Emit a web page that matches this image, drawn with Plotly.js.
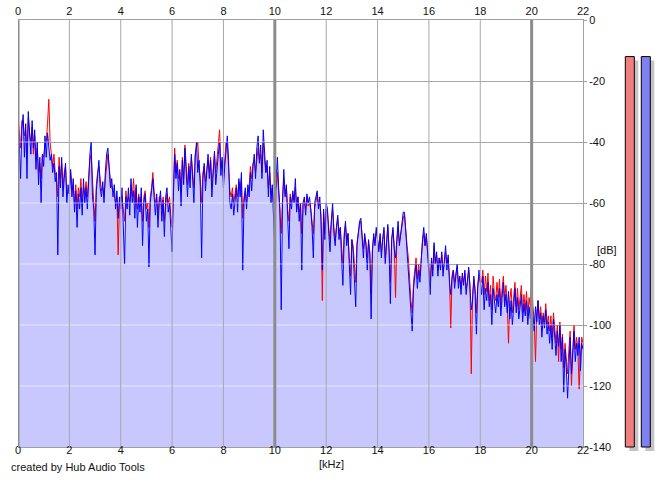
<!DOCTYPE html>
<html>
<head>
<meta charset="utf-8">
<script src="https://cdn.plot.ly/plotly-3.0.1.min.js"></script>
<style>html,body{margin:0;padding:0;background:#fff;}#chart{width:665px;height:487px;}</style>
</head>
<body>
<div id="chart"></div>
<script>
// ---- data ----
const freqStartKHz = 0;
const freqStepKHz = 0.05;

const blueDb = [
 -33,-40,-52,-36,-31,-45,-34,-52,-30,-38,-44,-33,-42,-36,-49,-40,-54,-45,-60,-44,-48,
 -38,-45,-37,-42,-46,-44,-50,-47,-53,-50,-77,-48,-55,-45,-58,-52,-47,-60,-54,-57,
 -49,-58,-52,-63,-56,-68,-57,-62,-55,-64,-52,-60,-55,-62,-50,-44,-40,-58,-62,-77,
 -56,-52,-46,-55,-58,-53,-60,-50,-44,-42,-50,-55,-52,-58,-54,-62,-56,-65,-58,-62,
 -55,-66,-80,-58,-62,-55,-64,-52,-60,-56,-65,-54,-68,-58,-63,-55,-74,-60,-57,-66,
 -62,-81,-60,-56,-52,-58,-64,-57,-68,-60,-56,-66,-59,-71,-58,-55,-63,-60,-69,-76,
 -58,-44,-52,-47,-56,-49,-61,-46,-54,-42,-50,-58,-48,-55,-44,-52,-60,-45,-40,-50,
 -46,-55,-78,-52,-47,-56,-50,-44,-52,-46,-58,-48,-43,-54,-47,-44,-40,-51,-45,-55,
 -48,-42,-38,-46,-60,-62,-57,-64,-60,-55,-63,-52,-58,-50,-82,-60,-55,-62,-54,-58,
 -50,-56,-48,-44,-52,-42,-38,-47,-41,-52,-36,-44,-50,-46,-58,-48,-60,-54,-65,-75,
 -52,-45,-55,-62,-95,-60,-49,-58,-54,-65,-75,-58,-62,-56,-60,-52,-63,-58,-66,-60,
 -82,-60,-58,-64,-57,-60,-58,-62,-68,-78,-60,-58,-56,-62,-58,-66,-82,-62,-72,-60,
 -62,-70,-76,-66,-60,-70,-74,-68,-64,-72,-68,-78,-87,-72,-66,-74,-70,-80,-90,-72,
 -76,-85,-94,-74,-70,-66,-65,-72,-78,-70,-74,-82,-72,-77,-98,-76,-70,-74,-68,-72,
 -76,-70,-78,-72,-68,-80,-74,-67,-76,-93,-72,-68,-75,-78,-72,-66,-74,-70,-66,-63,
 -63,-70,-75,-80,-90,-96,-102,-88,-84,-80,-88,-82,-86,-78,-72,-68,-74,-70,-76,-82,
 -90,-78,-84,-73,-80,-76,-84,-78,-82,-76,-84,-79,-74,-82,-77,-86,-90,-84,-82,-88,
 -84,-80,-88,-84,-90,-83,-87,-82,-90,-86,-81,-88,-95,-92,-84,-90,-103,-88,-82,-86,
 -90,-84,-95,-88,-92,-86,-94,-90,-100,-88,-92,-96,-90,-94,-88,-97,-91,-86,-94,-90,
 -96,-89,-98,-92,-100,-93,-88,-96,-91,-98,-94,-90,-99,-93,-97,-92,-100,-94,-98,-93,
 -96,-102,-94,-99,-92,-100,-96,-104,-97,-101,-95,-103,-99,-106,-100,-108,-98,-104,-110,-102,
 -107,-100,-112,-104,-122,-108,-114,-124,-110,-104,-116,-108,-102,-112,-106,-110,-104,-115,-106,-108
];

const redDb = [
 -31,-36,-42,-33,-33,-38,-36,-44,-32,-37,-40,-35,-44,-38,-46,-42,-50,-47,-52,-44,-45,
 -41,-40,-34,-26,-40,-45,-48,-44,-50,-52,-58,-45,-52,-47,-55,-50,-48,-56,-57,-55,
 -50,-54,-55,-60,-54,-62,-55,-58,-52,-60,-55,-57,-53,-58,-52,-46,-44,-55,-60,-66,
 -54,-50,-48,-52,-56,-55,-58,-52,-47,-44,-48,-53,-55,-56,-57,-60,-58,-77,-60,-58,
 -58,-62,-66,-56,-60,-58,-60,-54,-58,-52,-60,-55,-62,-57,-60,-58,-66,-58,-56,-62,
 -60,-68,-58,-55,-50,-56,-60,-58,-64,-58,-58,-62,-58,-66,-60,-57,-60,-58,-64,-68,
 -56,-42,-50,-46,-52,-50,-56,-45,-52,-41,-48,-54,-47,-52,-45,-50,-55,-44,-42,-40,
 -48,-52,-60,-50,-48,-53,-49,-46,-50,-45,-54,-47,-44,-50,-46,-42,-36,-48,-46,-52,
 -46,-40,-41,-50,-56,-58,-55,-60,-57,-54,-58,-53,-55,-52,-65,-58,-56,-60,-55,-55,
 -48,-52,-47,-46,-50,-45,-42,-46,-44,-50,-40,-46,-50,-48,-55,-50,-57,-55,-60,-56,
 -55,-50,-57,-60,-70,-58,-52,-57,-55,-62,-66,-57,-60,-57,-59,-55,-62,-58,-63,-60,
 -70,-60,-59,-62,-58,-61,-60,-62,-66,-70,-62,-60,-57,-61,-60,-64,-92,-63,-70,-62,
 -63,-68,-72,-66,-62,-68,-72,-68,-65,-70,-68,-74,-80,-70,-67,-72,-70,-78,-84,-72,
 -74,-80,-86,-73,-70,-67,-66,-70,-75,-71,-73,-78,-73,-76,-90,-75,-71,-73,-69,-72,
 -75,-71,-76,-72,-69,-78,-74,-68,-75,-86,-72,-69,-74,-91,-73,-68,-73,-70,-67,-65,
 -64,-70,-74,-78,-86,-92,-96,-86,-82,-78,-85,-80,-84,-78,-73,-70,-74,-71,-75,-80,
 -86,-79,-82,-74,-80,-77,-82,-78,-80,-77,-82,-80,-76,-80,-78,-84,-101,-85,-82,-86,
 -83,-81,-86,-84,-88,-84,-86,-83,-88,-86,-82,-87,-116,-90,-85,-88,-96,-87,-84,-86,
 -86,-82,-90,-84,-89,-83,-92,-87,-95,-84,-90,-92,-86,-91,-85,-94,-88,-84,-92,-87,
 -93,-106,-92,-88,-96,-89,-86,-94,-88,-95,-90,-87,-96,-90,-95,-89,-97,-91,-94,-85,
 -94,-98,-112,-96,-92,-98,-94,-100,-96,-99,-93,-100,-97,-102,-97,-104,-96,-101,-106,-100,
 -112,-99,-108,-103,-114,-106,-110,-116,-108,-102,-120,-106,-100,-108,-104,-108,-121,-110,-104,-106
];

const freqTicks = [0,2,4,6,8,10,12,14,16,18,20,22];
const freqTickLabels = ['0','2','4','6','8','10','12','14','16','18','20','22'];
const majorFreqTicks = [0,10,20];
const dbTicks = [0,-20,-40,-60,-80,-100,-120,-140];
const dbTickLabels = ['0','-20','-40','-60','-80','-100','-120','-140'];
const dbFloor = -140;
const meterChannels = ['L','R'];
const meterLevelsDb = [-12,-12];

// ---- build ----
const freqs = blueDb.map((_, i) => +(freqStartKHz + i * freqStepKHz).toFixed(2));

const W = 665, H = 487;
const mL = 18, mR = 5, mT = 20, mB = 30;
const plotW = W - mL - mR, plotH = H - mT - mB;
const px = v => (v - mL) / plotW;          // pixel -> paper x
const py = v => (H - mB - v) / plotH;      // pixel -> paper y
const mainRight = 583, mainBottom = 447;
const dbPerPx = 140 / (mainBottom - mT);

const font = {family: 'Liberation Sans, Arial, sans-serif', size: 11, color: '#111'};

const traces = [
  {x: [0, 22], y: [dbFloor, dbFloor], mode: 'lines', line: {width: 0}, hoverinfo: 'skip', showlegend: false},
  {x: freqs, y: blueDb, mode: 'lines', fill: 'tonexty', fillcolor: 'rgb(200,200,255)', line: {width: 0, color: 'rgba(0,0,0,0)'}, hoverinfo: 'skip', showlegend: false},
  {x: freqs, y: redDb, mode: 'lines', line: {width: 1, color: '#ff0000'}, xaxis: 'x2', yaxis: 'y', showlegend: false},
  {x: freqs, y: blueDb, mode: 'lines', line: {width: 1, color: '#0000ff'}, xaxis: 'x2', yaxis: 'y', showlegend: false},
  // meter shadows
  {type: 'bar', x: [13.8, 29.8], y: meterLevelsDb.map(l => l - dbFloor), base: dbFloor - 4 * dbPerPx, width: 9,
   marker: {color: '#c4c4c4', line: {width: 0}}, xaxis: 'x4', yaxis: 'y2', showlegend: false, hoverinfo: 'skip'},
  // meters
  {type: 'bar', x: [9.8, 25.8], y: meterLevelsDb.map(l => l - dbFloor), base: dbFloor, width: 9,
   text: meterChannels, textposition: 'none',
   marker: {color: ['rgb(240,128,128)', 'rgb(128,128,240)'], line: {width: 1, color: '#000'}},
   xaxis: 'x4', yaxis: 'y2', showlegend: false}
];

const xDomain = [0, px(mainRight)];
const yDomain = [py(mainBottom), 1];

// grid: horizontal lines grey on white but light over the filled spectrum; vertical lines over everything
const gridShapes = [];
dbTicks.filter(d => d !== 0 && d !== dbFloor).forEach(d => gridShapes.push({
  type: 'line', xref: 'x', yref: 'y', x0: 0, x1: 22, y0: d, y1: d, layer: 'above',
  line: {color: 'rgba(255,255,255,0.55)', width: 1}
}));
freqTicks.filter(f => majorFreqTicks.indexOf(f) < 0 && f !== 22).forEach(f => gridShapes.push({
  type: 'line', xref: 'x', yref: 'paper', x0: f, x1: f, y0: yDomain[0], y1: 1, layer: 'above',
  line: {color: '#a8a8a8', width: 1}
}));
majorFreqTicks.forEach(f => gridShapes.push({
  type: 'line', xref: 'x', yref: 'paper', x0: f, x1: f, y0: yDomain[0], y1: 1, layer: 'above',
  line: {color: '#8c8c8c', width: 3}
}));

const layout = {
  width: W, height: H,
  margin: {l: mL, r: mR, t: mT, b: mB, pad: 0},
  paper_bgcolor: '#fff', plot_bgcolor: '#fff',
  font: font,
  showlegend: false,
  barmode: 'overlay',
  xaxis: {domain: xDomain, range: [0, 22], anchor: 'y', tickvals: freqTicks, ticktext: freqTickLabels,
          showgrid: false, zeroline: false,
          showline: true, linecolor: '#a0a0a0', linewidth: 1, ticks: '', ticklabelstandoff: -7,
          tickfont: font, fixedrange: true},
  xaxis2: {domain: xDomain, range: [0, 22], overlaying: 'x', side: 'top', anchor: 'y', tickvals: freqTicks, ticktext: freqTickLabels,
           showgrid: false, zeroline: false, showline: true, linecolor: '#a0a0a0', ticks: '', ticklabelstandoff: 0,
           tickfont: font, fixedrange: true},
  yaxis: {domain: yDomain, range: [dbFloor, 0], side: 'right', anchor: 'x', tickvals: dbTicks, ticktext: dbTickLabels,
          showgrid: true, gridcolor: '#858585', gridwidth: 1, zeroline: false,
          showline: true, linecolor: '#a0a0a0', mirror: false, ticks: 'outside', ticklen: 3, tickcolor: '#a0a0a0',
          tickfont: font, fixedrange: true},
  xaxis4: {domain: [px(620), 1], range: [0, 40], anchor: 'y2', visible: false, fixedrange: true},
  yaxis2: {domain: [0, 1], range: [dbFloor - (H - mB - mainBottom) * dbPerPx, 0], anchor: 'x4', visible: false, fixedrange: true},
  shapes: gridShapes,
  annotations: [
    {text: '[kHz]', xref: 'paper', yref: 'paper', x: px(331), y: py(464), showarrow: false, font: font, xanchor: 'center', yanchor: 'middle'},
    {text: '[dB]', xref: 'paper', yref: 'paper', x: px(607), y: py(250), showarrow: false, font: font, xanchor: 'center', yanchor: 'middle'},
    {text: 'created by Hub Audio Tools', xref: 'paper', yref: 'paper', x: px(9), y: py(467), showarrow: false, font: font, xanchor: 'left', yanchor: 'middle'}
  ]
};

Plotly.newPlot('chart', traces, layout, {staticPlot: true, displayModeBar: false});
</script>
</body>
</html>
